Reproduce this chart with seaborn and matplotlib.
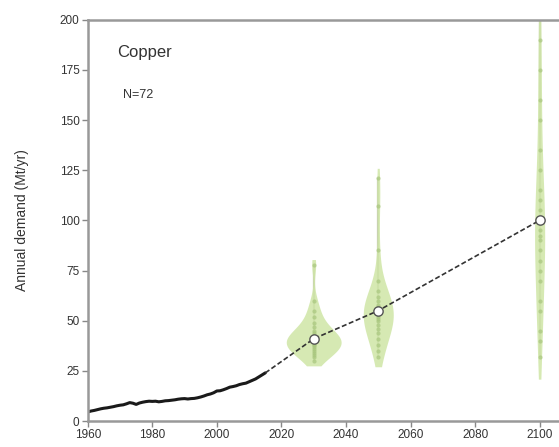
import pandas as pd
import matplotlib.pyplot as plt
import numpy as np
import seaborn as sns

sns.set_style('white')
plt.rcParams['font.family'] = ['Liberation Sans', 'DejaVu Sans']

hist_years = list(range(1960, 2016))
hist_demand = [4.5, 5.0, 5.3, 5.7, 6.1, 6.4, 6.6, 6.9, 7.2, 7.6,
               7.9, 8.1, 8.6, 9.2, 8.9, 8.3, 9.0, 9.4, 9.7, 9.9,
               9.8, 9.9, 9.6, 9.8, 10.1, 10.2, 10.4, 10.6, 10.9, 11.1,
               11.2, 11.0, 11.2, 11.3, 11.6, 12.0, 12.5, 13.1, 13.5, 14.1,
               15.0, 15.1, 15.6, 16.2, 16.9, 17.2, 17.6, 18.2, 18.6, 18.9,
               19.6, 20.3, 21.0, 22.0, 23.0, 24.0]

proj_years = [2030, 2050, 2100]
samples_2030 = [30, 32, 33, 34, 35, 36, 37, 38, 38, 39, 40, 40, 41, 41, 42,
                43, 44, 45, 47, 49, 52, 55, 60, 78]
samples_2050 = [32, 35, 38, 41, 44, 46, 48, 50, 51, 52, 53, 54, 55, 55, 56,
                57, 58, 60, 62, 65, 70, 85, 107, 121]
samples_2100 = [32, 40, 45, 55, 60, 70, 75, 80, 85, 90, 92, 95, 100, 100,
                105, 110, 115, 125, 135, 150, 160, 175, 190, 205]

median_years = [2015, 2030, 2050, 2100]
median_demand = [24.0, 41.0, 55.0, 100.0]

proj = pd.DataFrame({
    'year': [2030] * len(samples_2030) + [2050] * len(samples_2050) + [2100] * len(samples_2100),
    'demand': samples_2030 + samples_2050 + samples_2100,
})

fig = plt.figure(figsize=(5.59, 4.47), dpi=100)
ax = fig.add_axes([0.157, 0.058, 0.843, 0.898])

# spread whiskers
for yr, s in zip(proj_years, [samples_2030, samples_2050, samples_2100]):
    ax.vlines(yr, min(s), max(s), color='#c4c8b4', lw=1.6, zorder=1)

sns.violinplot(data=proj, x='year', y='demand', native_scale=True, ax=ax,
               color='#cfe6a6', linewidth=0, inner=None, cut=0.5, bw_adjust=0.9,
               density_norm='area', width=0.85, saturation=1, alpha=0.85)
sns.stripplot(data=proj, x='year', y='demand', native_scale=True, ax=ax,
              jitter=False, color='#a8c67e', size=3, alpha=0.7, zorder=3)

sns.lineplot(x=hist_years, y=hist_demand, ax=ax, color='#1a1a1a', lw=2.2)
sns.lineplot(x=median_years, y=median_demand, ax=ax, color='#333333', lw=1.2,
             linestyle=(0, (3, 1.5)), zorder=4)
ax.scatter(median_years[1:], median_demand[1:], s=45, facecolor='white',
           edgecolor='#555555', lw=1, zorder=5)

ax.set_xlim(1960, 2106)
ax.set_ylim(0, 200)
ax.set_xticks(range(1960, 2101, 20))
ax.set_yticks(range(0, 201, 25))
ax.set_xlabel('')
ax.set_ylabel('Annual demand (Mt/yr)', fontsize=10, color='#333333', labelpad=22)
ax.tick_params(axis='both', direction='out', length=4, width=1, color='#888888',
               labelsize=8.5, labelcolor='#333333', bottom=True, left=True, pad=2)
for side in ['top', 'left', 'bottom']:
    ax.spines[side].set_color('#999999')
    ax.spines[side].set_linewidth(1.8)
ax.spines['right'].set_visible(False)

ax.text(0.062, 0.917, 'Copper', transform=ax.transAxes, fontsize=12,
        color='#333333', va='center')
ax.text(0.075, 0.812, 'N=72', transform=ax.transAxes, fontsize=9,
        color='#333333', va='center')

fig.savefig('out.png', dpi=100)
